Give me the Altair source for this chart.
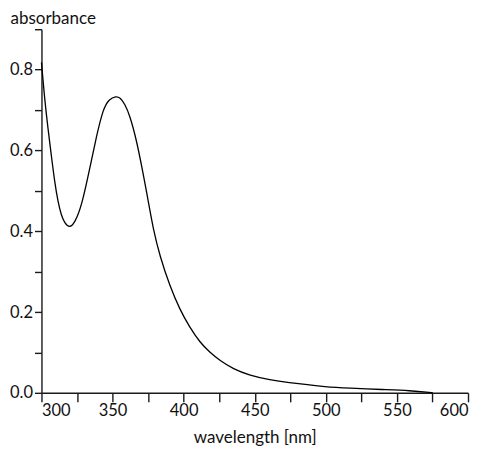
import altair as alt
import pandas as pd

wavelength = [300, 302.2, 304.6, 306.9, 309.3, 311.6, 313.9, 316.3, 319.8, 323.3, 328.2, 334, 338.8,
              343.4, 347.5, 352.5, 355.2, 358.5, 362.2, 366.9, 371.5, 375, 378.6, 383.3, 390.3, 397.3,
              404.3, 411.4, 418.4, 425.4, 434.8, 446.5, 460.5, 474.6, 487.5, 498, 516.7, 540.1, 559,
              575.3]
absorbance = [0.818, 0.728, 0.654, 0.588, 0.522, 0.473, 0.440, 0.420, 0.408, 0.420, 0.461, 0.556,
              0.637, 0.703, 0.727, 0.734, 0.731, 0.716, 0.686, 0.625, 0.543, 0.477, 0.405, 0.338,
              0.264, 0.206, 0.162, 0.125, 0.100, 0.080, 0.059, 0.043, 0.032, 0.025, 0.020, 0.0155,
              0.0116, 0.008, 0.0057, 0.0]

x_ticks = list(range(300, 601, 25))
y_ticks = [round(i * 0.1, 1) for i in range(10)]

df = pd.DataFrame({"wl": wavelength, "a": absorbance})

FONT = "Lato"

chart = alt.Chart(df).mark_line(color="black", strokeWidth=1.3, interpolate="basis").encode(
    x=alt.X("wl:Q", scale=alt.Scale(domain=[300, 600], nice=False, zero=False),
            axis=alt.Axis(values=x_ticks, title="wavelength [nm]", grid=False,
                          labelExpr="datum.value % 50 == 0 ? datum.label : ''",
                          tickSize=9, labelPadding=1, titlePadding=10)),
    y=alt.Y("a:Q", scale=alt.Scale(domain=[0, 0.9], nice=False),
            axis=alt.Axis(values=y_ticks, title="absorbance", grid=False,
                          labelExpr="round(datum.value*10) % 2 == 0 ? format(datum.value, '.1f') : ''",
                          tickSize=7, labelPadding=2, titleAngle=0, titleAlign="left",
                          titleBaseline="alphabetic", titleX=-31.5, titleY=-6)),
).properties(
    width=427, height=364,
    autosize=alt.AutoSizeParams(type="none"),
    padding={"left": 33.5, "top": 21, "right": 7, "bottom": 57},
).configure_axis(
    domainColor="#1a1a1a", tickColor="#1a1a1a", domainWidth=1.4, tickWidth=1.4,
    labelFont=FONT, titleFont=FONT, labelFontSize=16.5, titleFontSize=17,
    labelColor="#111", titleColor="#111", titleFontWeight="normal",
).configure_view(stroke=None)

chart.save("out.html", embed_options={"renderer": "svg", "actions": False})
